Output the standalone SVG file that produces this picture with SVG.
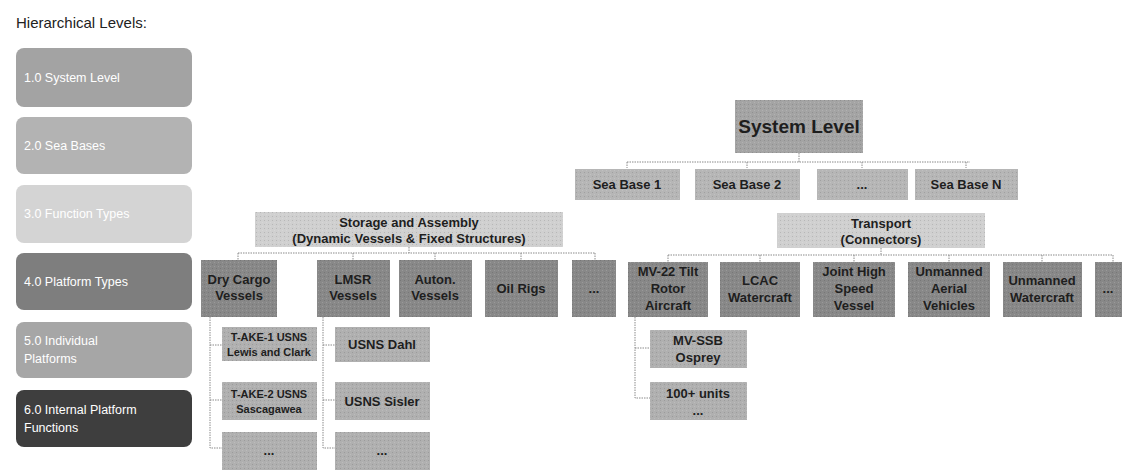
<svg xmlns="http://www.w3.org/2000/svg" width="1145" height="470" viewBox="0 0 1145 470">
<style>
  text { font-family: "Liberation Sans", Arial, sans-serif; }
  .lt { fill: #ffffff; font-size: 12.5px; }
  .n { font-weight: bold; fill: #1e1e1e; text-anchor: middle; font-size: 13px; }
  .big { font-size: 19px; }
  .sm { font-size: 11px; }
  .l1 { fill: #a4a4a4; }
  .l2 { fill: #b6b6b6; }
  .l3 { fill: #d0d0d0; }
  .l4 { fill: #888888; }
  .l5 { fill: #b0b0b0; }
  .c { fill: none; stroke: #8a8a8a; stroke-width: 1; stroke-dasharray: 1.5 1; }
</style>
<defs>
  <pattern id="grain" width="4" height="4" patternUnits="userSpaceOnUse">
    <rect x="0" y="0" width="1" height="1" fill="#000" fill-opacity="0.12"/>
    <rect x="2" y="2" width="1" height="1" fill="#fff" fill-opacity="0.15"/>
  </pattern>
</defs>
<rect width="1145" height="470" fill="#ffffff"/>
<g id="legend">
  <text x="16" y="28" style="font-size:15px" fill="#222">Hierarchical Levels:</text>
  <rect x="16" y="48" width="176" height="59" rx="8" fill="#a3a3a3"/>
  <text class="lt" x="24" y="82">1.0 System Level</text>
  <rect x="16" y="117" width="176" height="57" rx="8" fill="#b3b3b3"/>
  <text class="lt" x="24" y="150">2.0 Sea Bases</text>
  <rect x="16" y="185" width="176" height="58" rx="8" fill="#d4d4d4"/>
  <text class="lt" x="24" y="218">3.0 Function Types</text>
  <rect x="16" y="253" width="176" height="57" rx="8" fill="#7e7e7e"/>
  <text class="lt" x="24" y="286">4.0 Platform Types</text>
  <rect x="16" y="322" width="176" height="56" rx="8" fill="#a6a6a6"/>
  <text class="lt" x="24" y="345">5.0 Individual</text>
  <text class="lt" x="24" y="363">Platforms</text>
  <rect x="16" y="390" width="176" height="57" rx="8" fill="#3e3e3e"/>
  <text class="lt" x="24" y="414">6.0 Internal Platform</text>
  <text class="lt" x="24" y="432">Functions</text>
</g>
<g id="connectors">
  <path class="c" d="M799 153 V162 M627 162 H970 M627 162 V168 M747 162 V168 M862 162 V168 M966 162 V168"/>
  <path class="c" d="M409 247 V253 M238 253 H595 M238 253 V260 M353 253 V260 M435 253 V260 M521 253 V260 M595 253 V260"/>
  <path class="c" d="M881 248 V255 M668 255 H1113 M668 255 V262 M760 255 V262 M854 255 V262 M949 255 V262 M1042 255 V262 M1113 255 V262"/>
  <path class="c" d="M210 317 V448 H222 M210 345 H222 M210 400 H222"/>
  <path class="c" d="M323 317 V448 H335 M323 345 H335 M323 400 H335"/>
  <path class="c" d="M635 317 V398 H650 M635 348 H650"/>
</g>
<g id="system-level">
  <rect class="l1" x="735" y="100" width="128" height="53"/>
  <rect x="735" y="100" width="128" height="53" fill="url(#grain)"/>
  <text class="n big" x="799" y="133">System Level</text>
</g>
<g id="sea-base-1"><rect class="l2" x="575" y="169" width="105" height="31"/><rect x="575" y="169" width="105" height="31" fill="url(#grain)"/><text class="n" x="627" y="189">Sea Base 1</text></g>
<g id="sea-base-2"><rect class="l2" x="695" y="169" width="105" height="31"/><rect x="695" y="169" width="105" height="31" fill="url(#grain)"/><text class="n" x="747" y="189">Sea Base 2</text></g>
<g id="sea-base-dots"><rect class="l2" x="817" y="169" width="91" height="31"/><rect x="817" y="169" width="91" height="31" fill="url(#grain)"/><text class="n" x="862" y="189">...</text></g>
<g id="sea-base-n"><rect class="l2" x="915" y="169" width="103" height="31"/><rect x="915" y="169" width="103" height="31" fill="url(#grain)"/><text class="n" x="966" y="189">Sea Base N</text></g>
<g id="storage">
  <rect class="l3" x="255" y="212" width="308" height="35"/>
  <rect x="255" y="212" width="308" height="35" fill="url(#grain)"/>
  <text class="n" x="409" y="227">Storage and Assembly</text>
  <text class="n" x="409" y="243">(Dynamic Vessels &amp; Fixed Structures)</text>
</g>
<g id="transport">
  <rect class="l3" x="777" y="213" width="208" height="35"/>
  <rect x="777" y="213" width="208" height="35" fill="url(#grain)"/>
  <text class="n" x="881" y="228">Transport</text>
  <text class="n" x="881" y="244">(Connectors)</text>
</g>
<g id="dry-cargo"><rect class="l4" x="201" y="260" width="76" height="57"/><rect x="201" y="260" width="76" height="57" fill="url(#grain)"/><text class="n" x="239" y="284">Dry Cargo</text><text class="n" x="239" y="300">Vessels</text></g>
<g id="lmsr"><rect class="l4" x="317" y="260" width="73" height="57"/><rect x="317" y="260" width="73" height="57" fill="url(#grain)"/><text class="n" x="353" y="284">LMSR</text><text class="n" x="353" y="300">Vessels</text></g>
<g id="auton"><rect class="l4" x="399" y="260" width="73" height="57"/><rect x="399" y="260" width="73" height="57" fill="url(#grain)"/><text class="n" x="435" y="284">Auton.</text><text class="n" x="435" y="300">Vessels</text></g>
<g id="oil-rigs"><rect class="l4" x="485" y="260" width="73" height="57"/><rect x="485" y="260" width="73" height="57" fill="url(#grain)"/><text class="n" x="521" y="293">Oil Rigs</text></g>
<g id="storage-dots"><rect class="l4" x="572" y="260" width="44" height="57"/><rect x="572" y="260" width="44" height="57" fill="url(#grain)"/><text class="n" x="594" y="293">...</text></g>
<g id="mv22"><rect class="l4" x="628" y="262" width="80" height="55"/><rect x="628" y="262" width="80" height="55" fill="url(#grain)"/><text class="n" x="668" y="276">MV-22 Tilt</text><text class="n" x="668" y="293">Rotor</text><text class="n" x="668" y="310">Aircraft</text></g>
<g id="lcac"><rect class="l4" x="720" y="262" width="80" height="55"/><rect x="720" y="262" width="80" height="55" fill="url(#grain)"/><text class="n" x="760" y="285">LCAC</text><text class="n" x="760" y="302">Watercraft</text></g>
<g id="jhsv"><rect class="l4" x="813" y="262" width="82" height="55"/><rect x="813" y="262" width="82" height="55" fill="url(#grain)"/><text class="n" x="854" y="276">Joint High</text><text class="n" x="854" y="293">Speed</text><text class="n" x="854" y="310">Vessel</text></g>
<g id="uav"><rect class="l4" x="908" y="262" width="82" height="55"/><rect x="908" y="262" width="82" height="55" fill="url(#grain)"/><text class="n" x="949" y="276">Unmanned</text><text class="n" x="949" y="293">Aerial</text><text class="n" x="949" y="310">Vehicles</text></g>
<g id="usv"><rect class="l4" x="1003" y="262" width="79" height="55"/><rect x="1003" y="262" width="79" height="55" fill="url(#grain)"/><text class="n" x="1042" y="285">Unmanned</text><text class="n" x="1042" y="302">Watercraft</text></g>
<g id="transport-dots"><rect class="l4" x="1095" y="262" width="27" height="55"/><rect x="1095" y="262" width="27" height="55" fill="url(#grain)"/><text class="n" x="1108" y="293">...</text></g>
<g id="take1"><rect class="l5" x="222" y="327" width="95" height="34"/><rect x="222" y="327" width="95" height="34" fill="url(#grain)"/><text class="n sm" x="269" y="341">T-AKE-1 USNS</text><text class="n sm" x="269" y="356">Lewis and Clark</text></g>
<g id="take2"><rect class="l5" x="222" y="382" width="95" height="38"/><rect x="222" y="382" width="95" height="38" fill="url(#grain)"/><text class="n sm" x="269" y="398">T-AKE-2 USNS</text><text class="n sm" x="269" y="413">Sascagawea</text></g>
<g id="dry-dots"><rect class="l5" x="222" y="432" width="95" height="38"/><rect x="222" y="432" width="95" height="38" fill="url(#grain)"/><text class="n" x="269" y="455">...</text></g>
<g id="dahl"><rect class="l5" x="335" y="327" width="95" height="35"/><rect x="335" y="327" width="95" height="35" fill="url(#grain)"/><text class="n" x="382" y="349">USNS Dahl</text></g>
<g id="sisler"><rect class="l5" x="335" y="382" width="95" height="38"/><rect x="335" y="382" width="95" height="38" fill="url(#grain)"/><text class="n" x="382" y="406">USNS Sisler</text></g>
<g id="lmsr-dots"><rect class="l5" x="335" y="432" width="95" height="38"/><rect x="335" y="432" width="95" height="38" fill="url(#grain)"/><text class="n" x="382" y="455">...</text></g>
<g id="osprey"><rect class="l5" x="650" y="330" width="97" height="38"/><rect x="650" y="330" width="97" height="38" fill="url(#grain)"/><text class="n" x="698" y="345">MV-SSB</text><text class="n" x="698" y="362">Osprey</text></g>
<g id="units"><rect class="l5" x="650" y="382" width="97" height="38"/><rect x="650" y="382" width="97" height="38" fill="url(#grain)"/><text class="n" x="698" y="398">100+ units</text><text class="n" x="698" y="415">...</text></g>
</svg>
